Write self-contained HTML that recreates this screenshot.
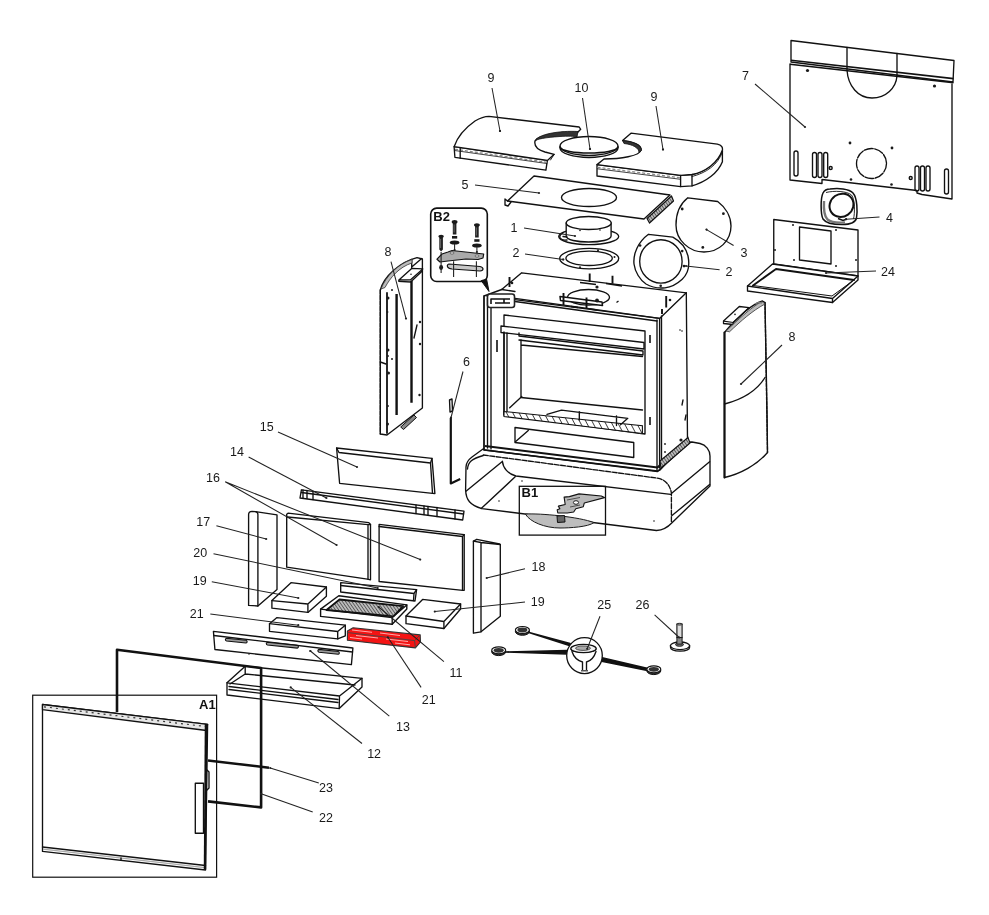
<!DOCTYPE html>
<html><head><meta charset="utf-8"><title>Exploded parts diagram</title>
<style>
html,body{margin:0;padding:0;background:#fff;}
body{width:989px;height:915px;overflow:hidden;}
svg{display:block;filter:blur(0.3px);}
text{font-family:"Liberation Sans",sans-serif;font-size:12.5px;fill:#1a1a1a;}
.b{font-weight:bold;font-size:13px;fill:#111;}
.l{stroke:#111;fill:none;stroke-linejoin:round;stroke-linecap:round;}
.w{stroke:#111;fill:#fff;stroke-linejoin:round;}
.t{stroke:#111;fill:none;stroke-linejoin:round;}
.ld{stroke:#222;fill:none;}
.d{fill:#1a1a1a;}
.g{fill:#bdbdbd;stroke:#1a1a1a;stroke-linejoin:round;}
</style></head>
<body>
<svg width="989" height="915" viewBox="0 0 989 915">
<rect width="989" height="915" fill="#fff"/>
<defs>
<pattern id="hatch1" patternUnits="userSpaceOnUse" width="5.5" height="5.5" patternTransform="rotate(-28)">
<rect width="5.5" height="5.5" fill="#fff"/><line x1="0" y1="0" x2="0" y2="5.5" stroke="#222" stroke-width="1.6"/>
</pattern>
<pattern id="hatch2" patternUnits="userSpaceOnUse" width="2.6" height="2.6" patternTransform="rotate(-35)">
<rect width="2.6" height="2.6" fill="#bbb"/><line x1="0" y1="0" x2="0" y2="2.6" stroke="#333" stroke-width="1.3"/>
</pattern>
</defs>


<!-- ===== PART 7 back panel ===== -->
<g id="p7">
<path class="w" stroke-width="1.35" d="M791,40.5 L954,60.5 L953,82 L791,62 Z"/>
<path d="M791,60.3 L953.5,78.6 M790,64.3 L953.5,82.7" stroke="#111" stroke-width="1.6" fill="none"/>
<path class="l" stroke-width="1.35" d="M790,64 L790,180 L822,183.5 L822,179.5 L917,190.5 L917,193 L922,194.5 L952,199 L952,84"/>
<path class="l" stroke-width="1.35" d="M847,47.5 L847,70 C848,86 858,98 872,98 C886,98 896,88 897,76 L897,53.5"/>
<circle class="d" cx="807.5" cy="70.5" r="1.6"/>
<circle class="d" cx="934.5" cy="86" r="1.6"/>
<circle class="l" stroke-width="1.35" cx="871.5" cy="163.5" r="15" stroke-dasharray="9 1.5"/>
<circle class="d" cx="850" cy="143" r="1.4"/>
<circle class="d" cx="892" cy="148" r="1.4"/>
<circle class="d" cx="851" cy="179.5" r="1.3"/>
<circle class="d" cx="891.5" cy="184.5" r="1.3"/>
<rect class="l" stroke-width="1.35" x="794" y="151" width="4" height="25" rx="2"/>
<rect class="l" stroke-width="1.35" x="812.5" y="152.5" width="4" height="25" rx="2"/>
<rect class="l" stroke-width="1.35" x="818" y="152.5" width="4" height="25" rx="2"/>
<rect class="l" stroke-width="1.35" x="823.7" y="152.5" width="4" height="25" rx="2"/>
<rect class="l" stroke-width="1.35" x="915" y="166" width="4" height="25" rx="2"/>
<rect class="l" stroke-width="1.35" x="920.5" y="166" width="4" height="25" rx="2"/>
<rect class="l" stroke-width="1.35" x="926" y="166" width="4" height="25" rx="2"/>
<rect class="l" stroke-width="1.35" x="944.5" y="169" width="4" height="25" rx="2"/>
<circle class="l" stroke-width="1.35" cx="830.7" cy="168" r="1.5"/>
<circle class="l" stroke-width="1.35" cx="910.7" cy="178" r="1.5"/>
<text x="745.5" y="80" text-anchor="middle">7</text>
<path class="ld" stroke-width="1.05" d="M755,84 L805,127"/><circle cx="805" cy="127" r="1.1" fill="#222"/>
</g>

<!-- ===== PART 9 left top panel ===== -->
<g id="p9l">
<path class="w" stroke-width="1.35" d="M454.1,146.7 L454.9,157.3 L545.9,170.2 L547.4,160.4 Z"/>
<path class="w" stroke-width="1.35" d="M454.1,146.7 C457,138 465,128 475,121 C480,118 485,116.4 489,116.4 L579.2,127 L580.7,129.3 L577,133 C560,132 538,135 535,141 C534,146 538,150 545,152 L554.2,154.3 L547.4,160.4 Z"/>
<path d="M578,131.5 C560,130.5 538,134 535,141 C537,139 545,137.5 560,136.5 C568,136 574,136 577,137 Z" fill="#333" stroke="#111" stroke-width="0.8"/>
<path d="M455,149.3 L547,162.3" stroke="#888" stroke-width="1.3" stroke-dasharray="3 2" fill="none"/>
<path class="l" d="M454.5,150.5 L546.8,163.5" stroke-width="0.8"/>
<path class="l" stroke-width="1.35" d="M460.2,148 L460.2,158.2"/>
<path class="l" d="M554.2,154.3 L550.5,160" stroke-width="0.9"/>
<text x="491" y="82" text-anchor="middle">9</text>
<path class="ld" stroke-width="1.05" d="M492,88 L500,131"/><circle cx="500" cy="131" r="1.1" fill="#222"/>
<circle class="d" cx="500" cy="131" r="0.9"/>
</g>

<!-- ===== PART 9 right top panel ===== -->
<g id="p9r">
<path class="w" stroke-width="1.35" d="M597,164.6 L597,176 L680.6,186.6 L692,185.9 C706,182 718,173 722.4,161.8 L722.4,149 C718,163 705,172 692,174.5 L680.6,175.3 Z"/>
<path class="w" stroke-width="1.35" d="M597,164.6 L604,159 C620,159 640,156 641,150 C642,145 632,141 622.6,140.6 L631,133.2 L717.4,144.1 C721,145 723,147 722.4,150 C718,163 705,172 692,174.5 L680.6,175.3 Z"/>
<path d="M622.6,140.6 C632,141 642,145 641.5,150.5 L639,152.5 C639,148 633,144.5 624,143.5 Z" fill="#333" stroke="#111" stroke-width="0.8"/>
<path class="l" stroke-width="1.35" d="M680.6,175.3 L680.6,186.6 M692,174.5 L692,185.9"/>
<path d="M597.5,167.3 L680.6,177.8" stroke="#888" stroke-width="1.3" stroke-dasharray="3 2" fill="none"/>
<path class="l" d="M597.5,168.8 L680.6,179.3" stroke-width="0.8"/>
<path class="l" d="M692,176.5 C706,173 718,165 722.4,152" stroke-width="0.9"/>
<text x="654" y="101" text-anchor="middle">9</text>
<path class="ld" stroke-width="1.05" d="M656,106 L663,149.5"/><circle cx="663" cy="149.5" r="1.1" fill="#222"/>
<circle class="d" cx="663" cy="149.5" r="0.9"/>
</g>

<!-- ===== PART 10 disc ===== -->
<g id="p10">
<ellipse class="w" stroke-width="1.35" cx="589" cy="148" rx="29" ry="9.5"/>
<ellipse class="w" stroke-width="1.35" cx="589" cy="146" rx="29" ry="9.5"/>
<path class="l" d="M560,147 C562,155 616,155 618,147" stroke-width="1.6"/>
<text x="581.5" y="92" text-anchor="middle">10</text>
<path class="ld" stroke-width="1.05" d="M582.5,98 L590,149"/><circle cx="590" cy="149" r="1.1" fill="#222"/>
<circle class="d" cx="590" cy="149" r="0.9"/>
</g>

<!-- ===== PART 5 plate ===== -->
<g id="p5">
<path class="w" stroke-width="1.35" d="M534,176 L670,195 L644,219 L507.5,201 Z"/>
<path class="l" stroke-width="1.35" d="M507.5,201 L505,199 L505,205 L508,206 L511,202"/>
<path d="M647,218.5 L671.5,196 L673.5,201 L649.5,223 Z" fill="url(#hatch2)" stroke="#111" stroke-width="1.2" stroke-linejoin="round"/>
<ellipse class="l" stroke-width="1.35" cx="589" cy="197.5" rx="27.5" ry="9"/>
<text x="465" y="188.5" text-anchor="middle">5</text>
<path class="ld" stroke-width="1.05" d="M475,185 L539,193"/><circle cx="539" cy="193" r="1.1" fill="#222"/>
</g>

<!-- ===== PART 1 collar ===== -->
<g id="p1">
<ellipse class="w" stroke-width="1.35" cx="588.7" cy="236.6" rx="30" ry="8"/>
<path class="w" stroke-width="1.35" d="M566.2,223 L566.2,236 C566.2,244 611.1,244 611.1,236 L611.1,223 Z"/>
<ellipse class="w" cx="588.7" cy="223" rx="22.5" ry="6.5" stroke-width="1.4"/>
<path class="l" stroke-width="1.35" d="M563,233 C557,236 560,241 567,240 M563,236.5 L567,237"/>
<circle class="d" cx="580" cy="230.5" r="0.8"/><circle class="d" cx="600" cy="230" r="0.8"/>
<text x="514" y="231.5" text-anchor="middle">1</text>
<path class="ld" stroke-width="1.05" d="M524,228 L575,236"/><circle cx="575" cy="236" r="1.1" fill="#222"/>
</g>

<!-- ===== PART 2 ring (left) ===== -->
<g id="p2a">
<ellipse class="l" cx="589.2" cy="258.6" rx="29.5" ry="10.3" stroke-width="1.35"/>
<ellipse class="l" cx="589.1" cy="258.3" rx="23.2" ry="7.2" stroke-width="1.35"/>
<circle class="d" cx="563.4" cy="259.5" r="1"/><circle class="d" cx="598" cy="250.2" r="1"/>
<circle class="d" cx="580" cy="267.3" r="1"/><circle class="d" cx="614.5" cy="257" r="1"/>
<text x="516" y="257" text-anchor="middle">2</text>
<path class="ld" stroke-width="1.05" d="M525,254 L563,259.5"/><circle cx="563" cy="259.5" r="1.1" fill="#222"/>
</g>

<!-- ===== PART 3 plate ===== -->
<g id="p3">
<path class="l" d="M687.8,197.8 L717.7,201.5 C725,207 731,216 731,226 C731,241 719,252 704,252 C689,252 676,240 676,225 C676,214 680,204 687.8,197.8 Z" stroke-width="1.35"/>
<circle class="d" cx="682.2" cy="209" r="1.4"/>
<circle class="d" cx="723.4" cy="213.7" r="1.4"/>
<circle class="d" cx="702.8" cy="247.4" r="1.4"/>
<circle class="d" cx="706.5" cy="229.6" r="0.8"/>
<text x="744" y="256.5" text-anchor="middle">3</text>
<path class="ld" stroke-width="1.05" d="M706.5,229.6 L733.6,245.5"/><circle cx="706.5" cy="229.6" r="1.1" fill="#222"/>
</g>

<!-- ===== PART 2 ring (right) ===== -->
<g id="p2b">
<path class="l" d="M648.5,234.3 L672.8,237.1 C680,241 686,248 688,256 C690,266 688,274 682.2,279.2 C677,284 672,287 665,287.8 C659,288.5 652,287.5 646,284 C640,280 635,272 634,264 C633,254 638,242 648.5,234.3 Z" stroke-width="1.35"/>
<ellipse class="l" cx="660.9" cy="261.4" rx="21.2" ry="21.7" stroke-width="1.35"/>
<circle class="d" cx="640.1" cy="245.5" r="1.3"/>
<circle class="d" cx="682.2" cy="251.1" r="1.3"/>
<circle class="d" cx="684" cy="266.1" r="1.3"/>
<circle class="d" cx="660.7" cy="285.7" r="1.3"/>
<text x="729" y="275.5" text-anchor="middle">2</text>
<path class="ld" stroke-width="1.05" d="M686,266 L719.6,269.8"/><circle cx="686" cy="266" r="1.1" fill="#222"/>
</g>

<!-- ===== PART 4 ring ===== -->
<g id="p4">
<path d="M830,189 C838,188 849,188.5 853,193 C857.5,198 857.5,212 856.5,218 C855.5,223 850,224.5 842,224.5 C834,224.5 826,223.5 823,219 C820.5,214 820.5,198 823,193 C824.5,190 827,189 830,189 Z" fill="#fff" stroke="#111" stroke-width="1.5"/>
<path d="M824,201 C823.5,210 824,216 827.5,219.5 C831,222.5 838,223 845,222.5" fill="none" stroke="#777" stroke-width="2.4"/>
<path d="M826,192.5 C834,190.5 847,191 851.5,195 C855,199 855,213 853.5,219" fill="none" stroke="#111" stroke-width="0.9"/>
<ellipse cx="841.5" cy="205.3" rx="12.3" ry="11.3" transform="rotate(-35 841.5 205.3)" fill="#fff" stroke="#111" stroke-width="2"/>
<path d="M838,218.5 L843,220.5 L847,219" fill="none" stroke="#111" stroke-width="1.6"/>
<text x="889.5" y="222" text-anchor="middle">4</text>
<path class="ld" stroke-width="1.05" d="M846.1,219.2 L879.5,217"/><circle cx="846.1" cy="219.2" r="1.1" fill="#222"/>
</g>

<!-- ===== PART 24 bracket ===== -->
<g id="p24">
<path class="w" stroke-width="1.35" d="M773.75,219.5 L858,230 L858,276 L773.75,264 Z"/>
<path class="l" stroke-width="1.35" d="M799.5,227 L831,231 L831,264 L799.5,260 Z"/>
<circle class="d" cx="793" cy="225" r="1"/><circle class="d" cx="836" cy="230" r="1"/>
<circle class="d" cx="775" cy="250" r="1"/><circle class="d" cx="856" cy="260" r="1"/>
<circle class="d" cx="794" cy="260" r="1"/><circle class="d" cx="836" cy="266" r="1"/>
<path class="w" stroke-width="1.35" d="M772.5,264 L858,276 L858,280 L832.5,302.5 L747.5,291 L747.5,286 Z"/>
<path class="l" stroke-width="1.35" d="M747.5,286 L832.5,298.5 L858,276 M832.5,298.5 L832.5,302.5"/>
<path class="l" d="M753,285.5 L776,269 L854,280" stroke-width="1.9"/>
<path class="l" d="M854,280 L832,296 L753,285.5" stroke-width="1"/>
<text x="888" y="275.5" text-anchor="middle">24</text>
<path class="ld" stroke-width="1.05" d="M826,273 L876,271"/><circle cx="826" cy="273" r="1.1" fill="#222"/>
</g>


<!-- ===== PLINTH ===== -->
<g id="plinth">
<path class="w" d="M483,449 L472,457 C468,460 466,463 466,467 L465.6,490 C466,500 470,505 482,508.6 L656.5,530.5 C664,530 668,527 672,522.7 L710,486 L710,456 C710,450 706,445 700,443.5 L692,442 Z" stroke-width="1.35"/>
<path class="l" d="M483.3,455 L656.5,478 C665,479 670,485 671.4,493 L671.4,522.7" stroke-dasharray="5 1.5" stroke-width="1.35"/>
<path class="l" stroke-width="1.35" d="M502.4,461.2 C503,468 508,474 515.9,476 L670.7,494.4"/>
<path class="l" stroke-width="1.35" d="M466.3,491 L501.7,462 M481.2,508.6 L515.2,476.8"/>
<path class="l" stroke-width="1.35" d="M672,493 L709.6,461.8 M672,515.6 L709.6,484.5"/>
<path class="l" stroke-width="1.35" d="M467.5,469 C468,462 472,458.5 483.3,455.5"/>
<circle class="d" cx="522" cy="481" r="0.8"/><circle class="d" cx="499" cy="501" r="0.8"/>
<circle class="d" cx="654" cy="521" r="0.8"/>
</g>

<!-- ===== STOVE BODY ===== -->
<g id="stove">
<path class="w" stroke-width="1.35" d="M484,296 L501.7,289.5 L521.7,272.8 L686.3,292.8 L687.5,440 L660,470 L657.5,471 L484,450 Z"/>
<path class="l" d="M487,296 L659.6,318.4 L686.3,292.8 M659.6,318.4 L659.6,468" stroke-width="1.35"/>
<path class="l" stroke-width="1.35" d="M501.7,289.5 L515,291.5 M515,298.4 L659.6,318.4 M515,301.5 L657,321"/>
<path class="l" d="M484,296 L484,450 M487.5,298 L487.5,448 M491,306 L491,449" stroke-width="1.35"/>
<path class="l" stroke-width="1.35" d="M657,320 L657,470 M661.5,316 L661.5,468"/>
<ellipse class="l" cx="588.5" cy="297.3" rx="21" ry="7.8" stroke-width="1.35"/>
<!-- firebox opening -->
<path class="l" d="M504,315 L645,331 L645,434 L504,415 Z" stroke-width="1.35"/>
<path class="w" d="M501,326 L644,342.5 L644,349 L501,332.5 Z" stroke-width="1.35"/>
<path class="l" stroke-width="1.35" d="M519,333 L519,336 L643,351 L643,355 L519,340"/>
<path class="l" stroke-width="1.35" d="M521,340 L521,397.5 L642.5,410 M521,345 L642.5,356.5"/>
<path class="l" stroke-width="1.35" d="M504,332 L504,415 M507,333 L507,415"/>
<path d="M504,411.5 L642.4,425.8 L642.4,433.5 L504,416.5 Z" fill="url(#hatch1)" stroke="#111" stroke-width="1.1"/>
<path class="l" stroke-width="1.35" d="M521.8,396.5 L509.7,407.8"/>
<path class="l" stroke-width="1.35" d="M547,414.3 L561.5,410.2 L627.8,418.3 L620.5,424.8 M579.3,412 L579.3,420 M616.5,416 L616.5,425.5"/>
<!-- ash opening -->
<path class="l" d="M515,427.5 L633.75,442.5 L633.75,457.5 L515,442.5 Z" stroke-width="1.35"/>
<path class="l" stroke-width="1.35" d="M515.4,441.8 L528.3,430.5"/>
<!-- base strip -->
<path class="t" d="M485,446 L657.5,467.5 L687,440" stroke-width="2.1"/>
<path class="l" stroke-width="1.35" d="M485,450 L657.5,471.5 L688,444"/>
<path d="M660,461 L688,437.5 L690,443 L661,468 Z" fill="url(#hatch2)" stroke="#111" stroke-width="1.1"/>
<circle class="d" cx="681" cy="440" r="1.6"/><circle class="d" cx="665" cy="444" r="0.9"/><circle class="d" cx="665" cy="452" r="0.9"/>
<!-- studs on top -->
<path d="M560,296.5 L602,302 L602.5,305.5 L560.5,300.5 Z" fill="#fff" stroke="#111" stroke-width="1.5" stroke-linejoin="round"/>
<path class="t" d="M509.5,277 L509.5,287 M589.7,273.5 L589.7,282 M612.5,275.7 L612.5,283.6 M666.2,296 L666.2,307.5 M563.5,293 L563.5,305 M586.5,297.5 L586.5,308 M662,309 L662,314" stroke-width="1.9"/>
<path class="t" d="M580,282.5 L596,284.5 M606,283.5 L622,286 M571,306.5 L578,307.5 M590,309 L597,310" stroke-width="1.5"/>
<circle class="d" cx="597" cy="300.5" r="1.9"/><circle class="d" cx="597" cy="287" r="1.6"/>
<circle class="d" cx="512" cy="283" r="1.3"/><circle class="d" cx="670" cy="300" r="1.3"/>
<path class="t" d="M616.5,302.5 L618.5,301" stroke-width="1.3"/>
<circle class="d" cx="680" cy="330" r="0.8"/><circle class="d" cx="682" cy="331" r="0.8"/>
<path class="l" stroke-width="1.35" d="M682,405 L683,400 M685,420 L686,415"/>
<path class="t" d="M650,335 L650,343 M650,417 L650,425 M497,340 L497,352" stroke-width="1.6"/>
<!-- B2 marker box -->
<rect x="487.5" y="294" width="27" height="13.5" rx="2.5" fill="#fff" stroke="#222" stroke-width="1.6"/>
<path class="t" d="M491,304 L491,299 L510,299 M495,303 L510,303 M504,299 L504,303" stroke-width="1.6"/>
</g>

<!-- ===== B1 detail ===== -->
<g id="b1">
<rect x="519.3" y="486.3" width="86.2" height="48.8" fill="none" stroke="#111" stroke-width="1.3"/>
<text class="b" x="521.5" y="497.3">B1</text>
<path class="g" stroke-width="1" d="M525.4,514.1 C540,513 580,517 593.9,522.6 C588,527 570,528 560,528 C545,528 530,522 525.4,514.1 Z" fill="#b0b0b0"/>
<path d="M557.8,513 L557.2,509.8 L559.9,508.8 L558.3,506.1 L565.2,504.5 L564.1,497.1 L569.4,496.6 L579,493.9 L601.3,496 L604.5,497.6 L584.3,503 L583.3,506.7 L575.8,508.8 L573.7,512 L567.3,513 Z" fill="#b8b8b8" stroke="#111" stroke-width="1.1" stroke-linejoin="round"/>
<ellipse cx="576" cy="502.5" rx="2.6" ry="1.8" fill="#fff" stroke="#111" stroke-width="0.9"/>
<path d="M567,500 L580,497.5 M570,507 L580,505" stroke="#333" stroke-width="0.8" fill="none"/>
<path d="M557,516 L564.5,515.5 L565,522 L557.5,522.5 Z" fill="#666" stroke="#111" stroke-width="1"/>
</g>

<!-- ===== B2 detail ===== -->
<g id="b2">
<rect x="430.7" y="208.1" width="56.6" height="73.4" rx="6" fill="#fff" stroke="#111" stroke-width="1.6"/>
<path d="M481.2,280.6 L486.6,279.2 L489,291.5 Z" fill="#111" stroke="#111" stroke-width="1"/>
<text class="b" x="433.3" y="221.3">B2</text>
<path d="M439.3,237 h3.6 v12.5 l-1.8,2 l-1.8,-2z M452.8,222.5 h3.6 v12 h-3.6z M475.1,225.5 h3.6 v12 h-3.6z" fill="#222"/>
<path d="M440.6,239 v9 M454.1,224.5 v8 M476.4,227.5 v8" stroke="#777" stroke-width="0.8"/>
<ellipse class="d" cx="441.1" cy="236.3" rx="2.8" ry="1.5"/>
<ellipse class="d" cx="454.6" cy="221.9" rx="2.9" ry="1.8"/>
<ellipse class="d" cx="476.9" cy="225" rx="2.9" ry="1.8"/>
<rect class="d" x="452" y="236" width="5.2" height="2.6"/>
<ellipse class="d" cx="454.6" cy="242.4" rx="4.8" ry="2"/>
<rect class="d" x="474.3" y="239.2" width="5.2" height="2.6"/>
<ellipse class="d" cx="476.9" cy="245.5" rx="4.8" ry="2"/>
<path class="ld" stroke-width="1.05" d="M454.6,244 L454.6,250 M476.9,247 L476.9,252"/><circle cx="454.6" cy="250" r="1.1" fill="#222"/><circle cx="476.9" cy="252" r="1.1" fill="#222"/>
<path d="M437,259.2 L442,254 L448,252 L452,250.5 L483.7,254 L483,258 L478,259.5 L466,259 L448,261 L440,262 Z" fill="#aaa" stroke="#111" stroke-width="1.2" stroke-linejoin="round"/>
<ellipse cx="452" cy="253" rx="2" ry="1" fill="#fff" stroke="#222" stroke-width="0.6"/>
<ellipse cx="477" cy="256" rx="2" ry="1" fill="#fff" stroke="#222" stroke-width="0.6"/>
<path d="M449,264 L480,266.5 C484,267.5 484,270.5 480,271 L452,269 C447,268.5 446,265 449,264 Z" fill="#c8c8c8" stroke="#111" stroke-width="1.2"/>
<ellipse class="d" cx="441.1" cy="267.5" rx="2" ry="2.4"/>
<path d="M441.1,252 L441.1,273 M453.6,261.3 L453.6,276.9 M476.4,261.3 L476.4,276.9" stroke="#222" stroke-width="1.1"/>
</g>

<!-- ===== PART 8 left side panel ===== -->
<g id="p8l">
<path class="w" d="M380.3,290 C384,276 400,262 417,257.6 L422.4,259 L422.4,408 L387,435 L380.3,434 Z" stroke-width="1.35"/>
<path class="l" d="M387,293 L387,433" stroke-width="1.8"/>
<path class="t" d="M396.6,294 L396.6,415 M411.5,280.7 L411.5,402.7" stroke-width="2.4"/>
<path d="M398.9,280 L411.7,268.4 L422.8,268.9 L410.6,279.8 Z" fill="#fff" stroke="#111" stroke-width="1.3" stroke-linejoin="round"/>
<path d="M398.9,280 L398.9,281.5 L410.6,282 L422.8,270.5" fill="none" stroke="#111" stroke-width="1.3"/>
<circle class="d" cx="411" cy="274.3" r="0.8"/>
<path class="l" stroke-width="1.35" d="M411.7,259.5 L411.7,268.4 M411.7,267 L421.7,258.5"/>
<path d="M381,289 C386,276 398,264 412,259.5 L412,263 C399,267 390,278 385,287.5 Z" fill="#bbb" stroke="#333" stroke-width="0.8"/>
<path d="M400.7,427 L414,415 L416.5,417.5 L403.5,429.5 Z" fill="#888" stroke="#111" stroke-width="1"/>
<path class="l" d="M380.3,290 L380.3,434" stroke-width="1.3" stroke-dasharray="4 1.5"/>
<circle class="d" cx="388" cy="298" r="1.5"/><circle class="d" cx="388" cy="350" r="1.5"/><circle class="d" cx="388.5" cy="373" r="1.5"/><circle class="d" cx="387.5" cy="424" r="1.5"/><circle class="d" cx="392" cy="359" r="1"/><circle class="d" cx="392" cy="290" r="1"/>
<circle class="d" cx="388" cy="356" r="0.9"/><circle class="d" cx="387.5" cy="312" r="0.9"/>
<circle class="d" cx="420" cy="322" r="1.2"/><circle class="d" cx="420" cy="344" r="1.2"/>
<circle class="d" cx="419.5" cy="395" r="1.2"/><circle class="d" cx="388" cy="406" r="0.9"/>
<path class="l" stroke-width="1.35" d="M417,325 L414,338"/>
<path class="l" stroke-width="1.35" d="M380.3,362 L386,364"/>
<text x="388" y="255.5" text-anchor="middle">8</text>
<path class="ld" stroke-width="1.05" d="M391,261.7 L406,318.6"/><circle cx="406" cy="318.6" r="1.1" fill="#222"/>
</g>

<!-- ===== PART 6 rod ===== -->
<g id="p6">
<path class="t" d="M450.8,418 L450.8,483.5 L460.2,479.1" stroke-width="2.2"/>
<path class="l" stroke-width="1.35" d="M449.5,400 L452,399 L452.5,411 L450,412 Z"/>
<text x="466.6" y="365.5" text-anchor="middle">6</text>
<path class="ld" stroke-width="1.05" d="M463,371.5 L451,417.6"/><circle cx="451" cy="417.6" r="1.1" fill="#222"/>
</g>

<!-- ===== PART 8 right side panel ===== -->
<g id="p8r">
<path class="w" d="M724.5,332.5 C735,320 750,305 762.5,301 L765,302.5 C766,340 767,400 767.5,452.5 C757,465 740,474 724.5,477.5 Z" stroke-width="1.35"/>
<path class="l" d="M765,302.5 L767.5,452.5" stroke-dasharray="3 1.5" stroke-width="1.35"/>
<path class="l" d="M724.5,404 C740,400 756,392 765,377.5" stroke-width="1.4"/>
<path d="M723.5,321.1 L739.3,306.5 L749,307.7 L733.2,322.5 L733,324.5 L723.5,323.5 Z" fill="#fff" stroke="#111" stroke-width="1.3" stroke-linejoin="round"/>
<path d="M723.5,321.1 L733.2,322.5 L749,307.7" fill="none" stroke="#111" stroke-width="1.1"/>
<circle class="d" cx="735" cy="314.4" r="0.8"/>
<path d="M726,331 C738,320 750,308 762,301.5 L765,304 C752,311 741,321 729.5,331.8 Z" fill="#bbb" stroke="#333" stroke-width="0.8"/>
<path d="M755,304 C758,302 760,302 762,303" fill="none" stroke="#777" stroke-width="1.5"/>
<path class="l" d="M724.5,332.5 L724.5,477.5" stroke-width="2.1"/>
<text x="792" y="340.5" text-anchor="middle">8</text>
<path class="ld" stroke-width="1.05" d="M782,345 L741,384"/><circle cx="741" cy="384" r="1.1" fill="#222"/>
</g>


<!-- ===== PART 15 brick ===== -->
<g id="p15">
<path class="w" d="M336.6,448 L432,458.4 L434.9,493.6 L339.6,483.3 Z" stroke-width="1.35"/>
<path class="l" stroke-width="1.35" d="M336.6,448 L339,452.5 L430.5,463 L432,458.4 M430.5,463 L432.5,493.4"/>
<text x="266.8" y="430.5" text-anchor="middle">15</text>
<path class="ld" stroke-width="1.05" d="M278,432 L357,467"/><circle cx="357" cy="467" r="1.1" fill="#222"/>
</g>

<!-- ===== PART 14 strip ===== -->
<g id="p14">
<path class="w" d="M301.4,489.8 L464,511.2 L462.7,520 L300,498 Z" stroke-width="1.35"/>
<path class="l" stroke-width="1.35" d="M301.4,492.5 L463.5,514"/>
<path class="l" stroke-width="1.35" d="M303,490 L303,498 M307,490.5 L307,498.5 M313,491.5 L313,499.5 M416,505 L416,513.5 M424,506 L424,514.5 M428,506.5 L428,515 M437,507.5 L437,516.5 M455,510 L455,519"/>
<text x="237" y="455.5" text-anchor="middle">14</text>
<path class="ld" stroke-width="1.05" d="M248.6,457 L326.4,498"/><circle cx="326.4" cy="498" r="1.1" fill="#222"/>
</g>

<!-- ===== PART 16 bricks ===== -->
<g id="p16">
<path class="w" d="M286.7,519.8 L286.7,514.2 L288,513.2 L368.8,522.6 L370.5,524.5 L370.5,579.8 L367.4,579.2 L286.7,567.2 Z" stroke-width="1.35"/>
<path class="l" stroke-width="1.35" d="M287.4,517 L368,524.7 L368,579.2 M368,524.7 L370.5,524.5"/>
<path class="w" d="M379.1,524.4 L464.2,534.6 L464.2,590.3 L462.7,590.3 L379.1,581.5 Z" stroke-width="1.35"/>
<path class="l" stroke-width="1.35" d="M379.1,526.5 L462.5,536.5 L462.5,590.3 M462.5,536.5 L464.2,534.6"/>
<text x="212.9" y="481.5" text-anchor="middle">16</text>
<path class="ld" stroke-width="1.05" d="M225.2,481.8 L336.6,545 M225.2,481.8 L420.2,559.6"/><circle cx="336.6" cy="545" r="1.1" fill="#222"/><circle cx="420.2" cy="559.6" r="1.1" fill="#222"/>
</g>

<!-- ===== PART 17 left side brick ===== -->
<g id="p17">
<path class="w" d="M248.6,605.4 L248.6,514.5 C248.6,512.5 250,511.3 252,511.3 L255.5,511.6 L277,514.9 L277,589.5 L257.9,606 Z" stroke-width="1.35"/>
<path class="l" stroke-width="1.35" d="M257.9,606 L257.9,514.5 M255.5,511.6 C257,512 257.9,513 257.9,514.5"/>
<text x="203.2" y="526" text-anchor="middle">17</text>
<path class="ld" stroke-width="1.05" d="M216.4,525.8 L266.2,539"/><circle cx="266.2" cy="539" r="1.1" fill="#222"/>
</g>

<!-- ===== PART 18 right side brick ===== -->
<g id="p18">
<path class="w" d="M473.4,541.2 L476.8,539.3 L499.5,544 L500.3,544.5 L500.3,616.3 L481,631.8 L473.4,633.2 Z" stroke-width="1.35"/>
<path class="l" stroke-width="1.35" d="M481,542.5 L481,631.8 M473.4,541.2 L481,542.5 L500.3,544.5"/>
<text x="538.5" y="571" text-anchor="middle">18</text>
<path class="ld" stroke-width="1.05" d="M525,568.7 L486.7,578"/><circle cx="486.7" cy="578" r="1.1" fill="#222"/>
</g>

<!-- ===== PART 20 strip ===== -->
<g id="p20">
<path class="w" d="M340.7,582.7 L416.6,589.7 L415,601 L340.7,592 Z" stroke-width="1.35"/>
<path class="l" stroke-width="1.35" d="M340.7,585.5 L414,593.5 L416.6,589.7 M414,593.5 L413.5,600.5"/>
<text x="200.3" y="556.5" text-anchor="middle">20</text>
<path class="ld" stroke-width="1.05" d="M213.5,553.7 L377.7,588"/><circle cx="377.7" cy="588" r="1.1" fill="#222"/>
</g>

<!-- ===== PART 19 left slab ===== -->
<g id="p19a">
<path class="w" d="M271.9,600.6 L291,582.7 L326.4,587 L326.4,596.2 L307.9,612.4 L271.9,608.2 Z" stroke-width="1.35"/>
<path class="l" stroke-width="1.35" d="M271.9,600.6 L307.9,604 L326.4,587 M307.9,604 L307.9,612.4"/>
<text x="199.7" y="584.5" text-anchor="middle">19</text>
<path class="ld" stroke-width="1.05" d="M211.8,581.8 L298.3,598"/><circle cx="298.3" cy="598" r="1.1" fill="#222"/>
</g>

<!-- ===== PART 11 grate ===== -->
<g id="p11">
<path class="w" d="M320.6,609.1 L338.8,595.8 L406.8,604.9 L406.8,609 L392.2,624.3 L320.6,616.4 Z" stroke-width="1.4"/>
<path class="l" d="M320.6,609.1 L392.2,617.5 L406.8,604.9 M392.2,617.5 L392.2,624.3" stroke-width="1.35"/>
<path d="M326.5,610 L339.5,599.5 L403.2,606.1 L393.4,616.4 Z" fill="url(#hatch2)" stroke="#111" stroke-width="1.8" stroke-linejoin="round"/>
<text x="456" y="676.5" text-anchor="middle">11</text>

</g>

<!-- ===== PART 19 right slab ===== -->
<g id="p19b">
<path class="w" d="M406,616 L422.6,599.4 L460.6,604 L460.6,609 L443.9,628.5 L406,623.7 Z" stroke-width="1.35"/>
<path class="l" stroke-width="1.35" d="M406,616 L443.9,621.5 L460.6,604 M443.9,621.5 L443.9,628.5"/>
<text x="537.7" y="606" text-anchor="middle">19</text>
<path class="ld" stroke-width="1.05" d="M525,602 L434.8,611.6"/><circle cx="434.8" cy="611.6" r="1.1" fill="#222"/>
</g>

<!-- ===== PART 21 left strip ===== -->
<g id="p21a">
<path class="w" d="M269.5,623.7 L277,617.6 L345.3,625.2 L345.3,635.8 L337.7,638.9 L269.5,631.3 Z" stroke-width="1.35"/>
<path class="l" stroke-width="1.35" d="M269.5,623.7 L337.7,631.5 L345.3,625.2 M337.7,631.5 L337.7,638.9"/>
<text x="196.7" y="617.5" text-anchor="middle">21</text>
<path class="ld" stroke-width="1.05" d="M210.3,614 L298.3,625.2"/><circle cx="298.3" cy="625.2" r="1.1" fill="#222"/>
</g>

<!-- ===== PART 21 red strip ===== -->
<g id="p21b">
<path d="M347.4,630.9 L353.1,627.7 L420.2,634.9 L420.5,642 L415.4,647.9 L347.4,640.2 Z" fill="#f41414" stroke="#333" stroke-width="1.1" stroke-linejoin="round"/>
<path d="M347.4,632.5 L414.6,640.6 L420.2,634.9 M414.6,640.6 L415.4,647.9" fill="none" stroke="#444" stroke-width="0.9"/>
<path d="M352,630 L372,632.3 M380,633 L400,635.5 M356,635.5 L378,638 M386,639 L408,641.5 M350,637.5 L362,639 M395,643 L410,644.8" stroke="#fbb" stroke-width="0.9" fill="none"/>
<text x="428.7" y="704" text-anchor="middle">21</text>
<path class="ld" stroke-width="1.05" d="M387.8,637.3 L421.1,687.4"/><circle cx="387.8" cy="637.3" r="1.1" fill="#222"/>
</g>

<path class="ld" stroke-width="1.05" d="M378.7,607 L443.9,661.6"/><circle cx="378.7" cy="607" r="1.1" fill="#222"/>
<!-- ===== PART 13 plate ===== -->
<g id="p13">
<path class="w" d="M213.4,631.3 L352.9,648 L351.4,664.6 L214.9,649.5 Z" stroke-width="1.35"/>
<path class="l" stroke-width="1.35" d="M213.8,635.5 L352.5,652"/>
<path d="M226.5,638.2 L246,640.3 C247.5,640.6 247.5,642.8 246,643 L226.5,641 C225,640.7 225,638.5 226.5,638.2 Z M267.4,642.2 L297.3,645.4 C298.8,645.7 298.8,647.9 297.3,648.1 L267.4,645 C265.9,644.7 265.9,642.5 267.4,642.2 Z M319,649.4 L338.2,651.5 C339.7,651.8 339.7,654 338.2,654.2 L319,652.2 C317.5,651.9 317.5,649.7 319,649.4 Z" fill="#999" stroke="#111" stroke-width="1.1"/>
<circle class="d" cx="249" cy="654" r="0.8"/><circle class="d" cx="310" cy="651" r="0.8"/>
<text x="403" y="730.5" text-anchor="middle">13</text>
</g>

<!-- ===== PART 12 ash pan ===== -->
<g id="p12">
<path class="w" d="M227,682.8 L245.2,666.2 L362,678.3 L362,687 L339.2,708.6 L227,695 Z" stroke-width="1.35"/>
<path class="l" stroke-width="1.35" d="M227,682.8 L339.5,696 L362,678.3 M339.5,696 L339.2,708.6"/>
<path class="l" stroke-width="1.35" d="M229,686.5 L338,699.5 M229,689.5 L338,702.5"/>
<path class="l" stroke-width="1.35" d="M245.2,666.2 L245.2,674 L230,684 M245.2,674 L355,685"/>
<text x="374.1" y="757.5" text-anchor="middle">12</text>
<path class="ld" stroke-width="1.05" d="M290.7,687.4 L362,743.5"/><circle cx="290.7" cy="687.4" r="1.1" fill="#222"/>
</g>

<path class="ld" stroke-width="1.05" d="M310.4,651 L389.3,716.2"/><circle cx="310.4" cy="651" r="1.1" fill="#222"/>
<!-- ===== A1 door ===== -->
<g id="a1">
<rect x="32.7" y="695.2" width="183.9" height="182" fill="none" stroke="#111" stroke-width="1.2"/>
<text class="b" x="199" y="708.9">A1</text>
<path class="w" d="M42.5,704.5 L207.6,724.3 L205.5,870 L42.5,851.4 Z" stroke-width="1.35"/>
<path d="M42.5,704.5 L207.6,724.3 L206.5,730.5 L42.5,709.7 Z" fill="#e6e6e6" stroke="#111" stroke-width="1.3" stroke-linejoin="round"/>
<path d="M44,706.8 L206,726.6" stroke="#333" stroke-width="1.2" stroke-dasharray="2 4" fill="none"/>
<path class="l" stroke-width="1.35" d="M42.5,847 L205.5,865.5"/>
<path d="M43,849.2 L205,867.7" stroke="#aaa" stroke-width="1.2" fill="none"/>
<path class="l" stroke-width="1.35" d="M121,858 L121,860"/>
<path class="t" d="M206,724 L205,869.6" stroke-width="2.5"/>
<rect class="w" stroke-width="1.35" x="195.3" y="783.2" width="8.2" height="50"/>
<path class="l" stroke-width="1.35" d="M207,770 L209,772 L209,788 L207,790"/>
</g>

<!-- ===== gasket 22 / 23 ===== -->
<g id="p22">
<path class="t" d="M117,712 L117,649.7 L261.1,668 L261.1,807.4 L208,801.4" stroke-width="2.6"/>
<path class="t" d="M208,760.4 L269,767.8" stroke-width="2.5"/>
<text x="326" y="791.5" text-anchor="middle">23</text>
<path class="ld" stroke-width="1.05" d="M270.2,768 L318.8,783"/><circle cx="270.2" cy="768" r="1.1" fill="#222"/>
<text x="326" y="821.5" text-anchor="middle">22</text>
<path class="ld" stroke-width="1.05" d="M261.1,793.8 L312.7,812"/><circle cx="261.1" cy="793.8" r="1.1" fill="#222"/>
</g>

<!-- ===== PART 25 leg base ===== -->
<g id="p25">
<path d="M529,632.5 L571,646 L570,643.5 Z M505.5,652 L567,650.5 L567,654 Z M601,657.5 L648,668.6 L647.5,670.5 L600.5,661 Z" fill="#111" stroke="#111" stroke-width="1.6" stroke-linejoin="round"/>
<ellipse cx="522.4" cy="631.5" rx="7" ry="3.8" fill="#333" stroke="#111" stroke-width="1"/>
<ellipse cx="522.4" cy="630" rx="7" ry="3.5" fill="#fff" stroke="#111" stroke-width="1.2"/>
<ellipse cx="522.4" cy="630" rx="5" ry="2.4" fill="#333"/>
<ellipse cx="498.7" cy="651.8" rx="7" ry="3.8" fill="#333" stroke="#111" stroke-width="1"/>
<ellipse cx="498.7" cy="650.3" rx="7" ry="3.5" fill="#fff" stroke="#111" stroke-width="1.2"/>
<ellipse cx="498.7" cy="650.3" rx="5" ry="2.4" fill="#333"/>
<ellipse cx="653.8" cy="670.8" rx="7" ry="3.8" fill="#333" stroke="#111" stroke-width="1"/>
<ellipse cx="653.8" cy="669.3" rx="7" ry="3.5" fill="#fff" stroke="#111" stroke-width="1.2"/>
<ellipse cx="653.8" cy="669.3" rx="5" ry="2.4" fill="#333"/>
<ellipse cx="584.5" cy="655.6" rx="17.8" ry="18" fill="#fff" stroke="#111" stroke-width="1.3"/>
<path class="l" stroke-width="1.35" d="M572,651.5 C574,658 579,661 582.5,662 L582.5,670 M586.5,662 L586.5,670 M596,651.5 C594,658 590,661 586.5,662"/>
<path d="M581,670 L588,670 L588,671.5 L581,671.5 Z" fill="#555"/>
<path d="M570.8,648.5 C570.8,653.5 596.2,653.5 596.2,648.5" fill="none" stroke="#111" stroke-width="1.2"/>
<ellipse cx="583.5" cy="648.5" rx="12.7" ry="4.2" fill="#f2f2f2" stroke="#111" stroke-width="1.3"/>
<ellipse cx="583" cy="648.2" rx="7.5" ry="2.2" fill="#aaa" stroke="#333" stroke-width="0.8"/>
<text x="604.2" y="609" text-anchor="middle">25</text>
<path class="ld" stroke-width="1.05" d="M600,616.3 L587.2,648.8"/><circle cx="587.2" cy="648.8" r="1.1" fill="#222"/>
</g>

<!-- ===== PART 26 foot ===== -->
<g id="p26">
<path d="M670.5,645.8 L670.5,647.3 C670.5,652.3 689.6,652.3 689.6,647.3 L689.6,645.8 Z" fill="#fff" stroke="#111" stroke-width="1.3"/>
<ellipse cx="680" cy="645.8" rx="9.6" ry="3.8" fill="#fff" stroke="#111" stroke-width="1.3"/>
<ellipse cx="679.5" cy="644.5" rx="4" ry="1.8" fill="#777" stroke="#111" stroke-width="0.9"/>
<rect x="676.9" y="624" width="5.2" height="13.6" fill="#ddd" stroke="#111" stroke-width="1.1"/>
<rect x="676.9" y="637.6" width="5.2" height="6.5" fill="#888" stroke="#111" stroke-width="0.9"/>
<ellipse cx="679.5" cy="624.2" rx="2.6" ry="0.9" fill="#aaa" stroke="#111" stroke-width="0.8"/>
<text x="642.4" y="609" text-anchor="middle">26</text>
<path class="ld" stroke-width="1.05" d="M654.6,614.8 L679.2,637.5"/><circle cx="679.2" cy="637.5" r="1.1" fill="#222"/>
</g>


</svg>
</body></html>
